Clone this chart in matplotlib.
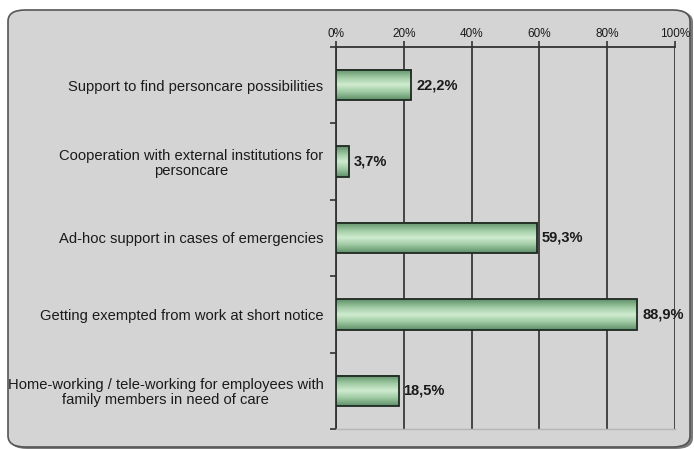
import matplotlib.pyplot as plt
import numpy as np
from matplotlib.patches import FancyBboxPatch, Rectangle
from matplotlib.colors import LinearSegmentedColormap

categories = [
    "Support to find personcare possibilities",
    "Cooperation with external institutions for\npersoncare",
    "Ad-hoc support in cases of emergencies",
    "Getting exempted from work at short notice",
    "Home-working / tele-working for employees with\nfamily members in need of care",
]
values = [22.2, 3.7, 59.3, 88.9, 18.5]
value_labels = ["22,2%", "3,7%", "59,3%", "88,9%", "18,5%"]
tick_values = [0, 20, 40, 60, 80, 100]
tick_labels = ["0%", "20%", "40%", "60%", "80%", "100%"]

plt.rcParams['font.family'] = ['Liberation Sans', 'DejaVu Sans']

fig = plt.figure(figsize=(6.94, 4.49), dpi=100)
fig.patch.set_facecolor("white")

# grey rounded panel behind the chart
shadow = FancyBboxPatch((10 / 694, 0 / 449), 683 / 694, 438 / 449,
                        boxstyle="round,pad=0,rounding_size=0.025",
                        transform=fig.transFigure, facecolor="#7a7a7a",
                        edgecolor="none", zorder=-2)
panel = FancyBboxPatch((8 / 694, 2 / 449), 682 / 694, 437 / 449,
                       boxstyle="round,pad=0,rounding_size=0.025",
                       transform=fig.transFigure, facecolor="#d4d4d4",
                       edgecolor="#555555", linewidth=1.2, zorder=-1)
fig.patches.append(shadow)
fig.patches.append(panel)

ax = fig.add_axes([336 / 694, 1 - 429 / 449, 339 / 694, 382 / 449])
ax.set_facecolor("none")

n = len(categories)
ypos = np.arange(n)
bar_h = 0.4

green = LinearSegmentedColormap.from_list(
    "bar", ["#5f8f68", "#9cc8a0", "#d0ecd0", "#9cc8a0", "#5f8f68"])
grad = np.linspace(0, 1, 64).reshape(-1, 1)

for y, v, lab in zip(ypos, values, value_labels):
    ax.imshow(grad, cmap=green, aspect="auto", interpolation="bilinear",
              extent=(0, v, y + bar_h / 2, y - bar_h / 2), zorder=3)
    ax.add_patch(Rectangle((0, y - bar_h / 2), v, bar_h, facecolor="none",
                           edgecolor="#1f2a22", linewidth=1.3, zorder=4))
    ax.text(v + 1.4, y, lab, va="center", ha="left", fontsize=10.5,
            fontweight="bold", color="#1a1a1a", zorder=5)

ax.set_xlim(0, 100)
ax.set_ylim(n - 0.5, -0.5)

ax.xaxis.tick_top()
ax.set_xticks(tick_values)
ax.set_xticklabels(tick_labels, fontsize=8.5, color="#1a1a1a")
ax.tick_params(axis="x", length=4, width=1.2, color="#333333", pad=1)

ax.set_yticks(ypos)
ax.set_yticklabels(categories, fontsize=10.6, color="#1a1a1a",
                   multialignment="center", linespacing=1.05)
ax.tick_params(axis="y", length=0, pad=9)
ax.set_yticks(np.arange(n + 1) - 0.5, minor=True)
ax.tick_params(axis="y", which="minor", length=4, width=1.2, color="#333333")

for t in tick_values:
    ax.axvline(t, color="#3a3a3a", linewidth=1.3, zorder=1)

ax.spines["right"].set_visible(False)
ax.spines["top"].set_color("#333333")
ax.spines["top"].set_linewidth(1.3)
ax.spines["left"].set_color("#333333")
ax.spines["left"].set_linewidth(1.3)
ax.spines["bottom"].set_color("#b5b5b5")
ax.spines["bottom"].set_linewidth(1.0)

fig.savefig("out.png", dpi=100, facecolor=fig.get_facecolor())
